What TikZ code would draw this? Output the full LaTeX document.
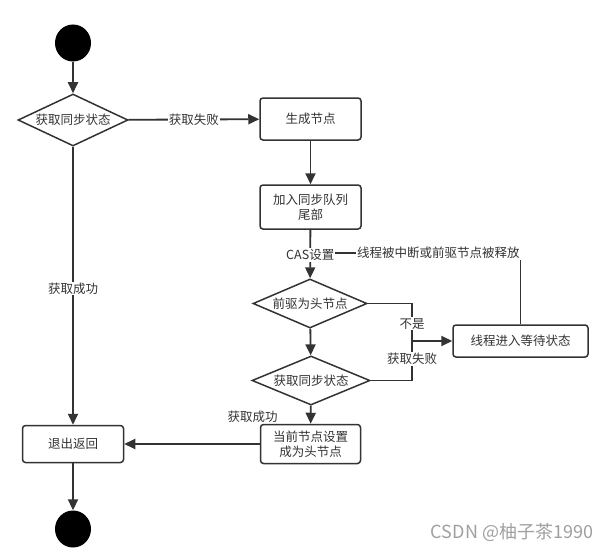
\documentclass[tikz,border=0pt]{standalone}
\usepackage{fontspec}
\setmainfont{Noto Sans CJK SC}
\usetikzlibrary{shapes.geometric,arrows.meta}
\definecolor{ink}{HTML}{333333}
\definecolor{wm}{HTML}{A0A0A0}
\begin{document}
\begin{tikzpicture}[x=1pt,y=-1pt,
  txt/.style={text=ink, font=\fontsize{12.5}{15}\selectfont},
  line/.style={draw=ink, line width=1.8pt},
  arr/.style={line, -{Triangle[length=11pt,width=10pt]}},
  box/.style={txt, draw=ink, line width=1.5pt, rounded corners=3pt, fill=white, align=center, inner sep=0pt},
  dia/.style={txt, diamond, draw=ink, line width=1.5pt, aspect=2, inner sep=0pt, fill=white},
  lbl/.style={txt, fill=white, inner sep=1pt},
  dot/.style={ellipse, fill=black, minimum width=36pt, minimum height=37pt, inner sep=0pt}]
\useasboundingbox (0,0) rectangle (612,551);
\fill[white] (0,0) rectangle (612,551);
% nodes
\node[dot] (start) at (73,43) {};
\node[dia, minimum width=110pt, minimum height=52pt] (d1) at (73,120) {获取同步状态};
\node[box, minimum width=101pt, minimum height=42pt] (gen) at (310.5,119) {生成节点};
\node[box, minimum width=101pt, minimum height=44pt] (join) at (310.5,207) {加入同步队列\\尾部};
\node[dia, minimum width=114pt, minimum height=47pt] (d2) at (310,303.5) {前驱为头节点};
\node[dia, minimum width=118pt, minimum height=45pt] (d3) at (311,380.5) {获取同步状态};
\node[box, minimum width=135pt, minimum height=32pt] (wait) at (520.5,341) {线程进入等待状态};
\node[box, minimum width=101pt, minimum height=37pt] (exit) at (73,444) {退出返回};
\node[box, minimum width=100pt, minimum height=39pt] (sethead) at (310.5,444) {当前节点设置\\成为头节点};
\node[dot] (end) at (73,529) {};
\coordinate (m) at (412,341);
\coordinate (c) at (310,253);
% connectors
\draw[arr] (start) -- (d1);
\draw[arr] (d1) -- node[lbl]{获取失败} (gen);
\draw[arr] (gen) -- (join);
\draw[line] (wait.north) |- node[lbl, pos=0.695]{线程被中断或前驱节点被释放} (c);
\draw[arr] (join) -- node[lbl, pos=0.52]{CAS设置} (d2);
\draw[arr] (d1) -- node[lbl, pos=0.51]{获取成功} (exit);
\draw[arr] (d2) -- (d3);
\draw[arr] (d3) -- node[txt, anchor=east, xshift=-29pt, yshift=-2pt]{获取成功} (sethead);
\draw[arr] (sethead) -- (exit);
\draw[arr] (exit) -- (end);
\draw[line] (d2.east) -| node[lbl, pos=0.77]{不是} (m);
\draw[line] (d3.east) -| node[lbl, pos=0.77]{获取失败} (m);
\draw[arr] (m) -- (wait);
% watermark
\node[text=wm, font=\fontsize{18}{21}\selectfont, inner sep=0pt] (wmk) at (512,532) {CSDN @柚子茶1990};
\end{tikzpicture}
\end{document}
